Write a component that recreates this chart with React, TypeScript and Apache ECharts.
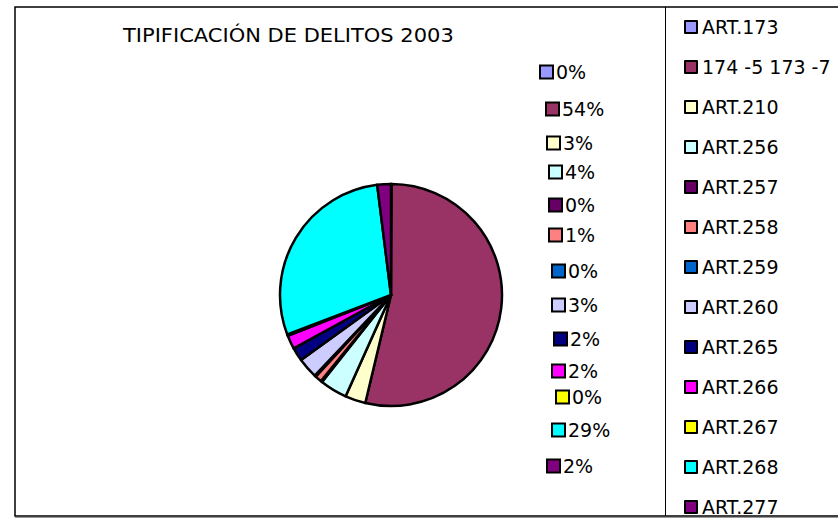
import React, { useEffect, useRef } from "react";
import * as echarts from "echarts";

const TITLE = "TIPIFICACIÓN DE DELITOS 2003";
const categories = [
  "ART.173",
  "174 -5 173 -7",
  "ART.210",
  "ART.256",
  "ART.257",
  "ART.258",
  "ART.259",
  "ART.260",
  "ART.265",
  "ART.266",
  "ART.267",
  "ART.268",
  "ART.277",
];
// estimated counts (percentages: 0,54,3,4,0,1,0,3,2,2,0,29,2)
const values = [1, 540, 30, 40, 2, 10, 2, 30, 20, 20, 2, 290, 20];
const colors = [
  "#9999FF",
  "#993366",
  "#FFFFCC",
  "#CCFFFF",
  "#660066",
  "#FF8080",
  "#0066CC",
  "#CCCCFF",
  "#000080",
  "#FF00FF",
  "#FFFF00",
  "#00FFFF",
  "#800080",
];
// manual label placement (left edge of the swatch, vertical centre)
const labelPos: [number, number][] = [
  [541, 72],
  [547, 109],
  [548, 143],
  [550, 172],
  [550, 205],
  [550, 235],
  [553, 271],
  [553, 305],
  [555, 339],
  [553, 371],
  [557, 397],
  [553, 430],
  [548, 466],
];

const FONT = "DejaVu Sans";

export default function App() {
  const ref = useRef<HTMLDivElement>(null);
  useEffect(() => {
    if (!ref.current) return;
    const chart = echarts.init(ref.current, undefined, { renderer: "svg" });
    const rich: Record<string, any> = {
      t: { fontFamily: FONT, fontSize: 19, color: "#000", padding: [0, 0, 0, 4] },
    };
    colors.forEach((c, i) => {
      rich["sq" + i] = {
        width: 11,
        height: 11,
        backgroundColor: c,
        borderColor: "#000",
        borderWidth: 2,
      };
    });
    chart.setOption({
      animation: false,
      backgroundColor: "#fff",
      textStyle: { fontFamily: FONT },
      graphic: [
        {
          type: "rect",
          shape: { x: 15, y: 7, width: 840, height: 509 },
          style: { fill: "none", stroke: "#000", lineWidth: 1.5 },
          silent: true,
        },
        {
          type: "line",
          shape: { x1: 15, y1: 517.5, x2: 838, y2: 517.5 },
          style: { stroke: "#999", lineWidth: 1 },
          silent: true,
        },
        {
          type: "line",
          shape: { x1: 665.5, y1: 7, x2: 665.5, y2: 516 },
          style: { stroke: "#000", lineWidth: 1 },
          silent: true,
        },
        {
          type: "text",
          left: 123,
          top: 25,
          style: {
            text: TITLE,
            fontFamily: FONT,
            fontSize: 20,
            fill: "#000",
          },
          scaleX: 1.05,
        },
      ],
      legend: {
        orient: "vertical",
        left: 684,
        top: 17,
        padding: 0,
        height: 503,
        itemWidth: 12,
        itemHeight: 12,
        itemGap: 20,
        icon: "rect",
        data: categories,
        textStyle: { fontFamily: FONT, fontSize: 19, color: "#000", lineHeight: 20 },
        itemStyle: { borderColor: "#000", borderWidth: 2 },
      },
      series: [
        {
          type: "pie",
          center: [391, 295],
          radius: 111,
          startAngle: 90,
          clockwise: true,
          avoidLabelOverlap: false,
          percentPrecision: 0,
          minShowLabelAngle: 0,
          itemStyle: { borderColor: "#000", borderWidth: 2.5 },
          emphasis: { disabled: true },
          labelLine: { show: false },
          label: {
            show: true,
            formatter: (p: any) => `{sq${p.dataIndex}|}{t|${p.percent}%}`,
            rich,
          },
          labelLayout: (p: any) => ({
            x: labelPos[p.dataIndex][0],
            y: labelPos[p.dataIndex][1],
            align: "left",
            verticalAlign: "middle",
          }),
          data: categories.map((name, i) => ({
            name,
            value: values[i],
            itemStyle: { color: colors[i] },
          })),
        },
      ],
    });
    return () => chart.dispose();
  }, []);
  return (
    <div
      ref={ref}
      style={{ position: "fixed", left: 0, top: 0, width: 838, height: 520 }}
    />
  );
}
